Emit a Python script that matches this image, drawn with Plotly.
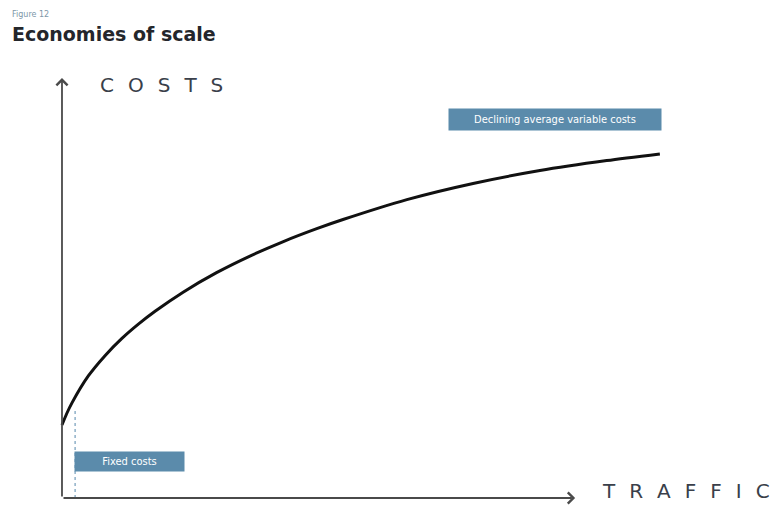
import plotly.graph_objects as go

# Total cost curve: traffic volume vs. costs (arbitrary units)
traffic = [0, 0.78, 1.63, 4.41, 7.21, 10.0, 12.8, 15.6, 20.3, 25.9, 31.5,
           37.1, 42.7, 47.1, 57.8, 68.9, 80.1, 91.3, 100.2]
costs = [17.6, 20.3, 22.8, 29.4, 34.3, 38.4, 41.9, 45.0, 49.6, 54.3, 58.3,
         61.8, 64.9, 67.1, 71.9, 75.8, 78.9, 81.3, 82.9]

# Extents of the axis arrows and the fixed-cost marker
x_arrow_end = 86.0
y_arrow_end = 101.2
fixed_cost_level = 21.2
fixed_cost_traffic = 2.2

# Label boxes
label_fixed = "Fixed costs"
label_variable = "Declining average variable costs"
axis_x_label = "TRAFFIC"
axis_y_label = "COSTS"

BOX = "#5b8bab"
AXIS = "#4a4a4a"
SP = "\u2002\u2009"
NARROW = "DejaVu Sans Condensed, Liberation Sans Narrow, Arial Narrow, sans-serif"


def spaced(s):
    return SP.join(s)


fig = go.Figure()

fig.add_trace(go.Scatter(
    x=traffic, y=costs, mode="lines",
    line=dict(color="#111111", width=3, shape="spline", smoothing=0.7),
    hoverinfo="skip", showlegend=False,
))

# Dotted marker for the fixed-cost level
fig.add_shape(type="line", xref="x", yref="y",
              x0=fixed_cost_traffic, x1=fixed_cost_traffic, y0=0, y1=fixed_cost_level,
              line=dict(color="#8fb0c8", width=1.5, dash="dot"))

# Axes drawn as arrows
fig.add_annotation(x=0, y=y_arrow_end, ax=0, ay=0, xref="x", yref="y",
                   axref="x", ayref="y", text="", showarrow=True,
                   arrowhead=4, arrowsize=1.2, arrowwidth=1.8, arrowcolor=AXIS)
fig.add_annotation(x=x_arrow_end, y=0, ax=0, ay=0, xref="x", yref="y",
                   axref="x", ayref="y", text="", showarrow=True,
                   arrowhead=4, arrowsize=1.2, arrowwidth=1.8, arrowcolor=AXIS)

# Axis titles
fig.add_annotation(x=6.0, y=99.5, xref="x", yref="y", xanchor="left", yanchor="middle",
                   text=spaced(axis_y_label), showarrow=False,
                   font=dict(family="DejaVu Sans", size=20, color="#3a3f4a"))
fig.add_annotation(x=90.2, y=1.7, xref="x", yref="y", xanchor="left", yanchor="middle",
                   text=spaced(axis_x_label), showarrow=False,
                   font=dict(family="DejaVu Sans", size=20, color="#3a3f4a"))

# Callout boxes
fig.add_annotation(x=11.3, y=8.9, xref="x", yref="y", text=label_fixed, showarrow=False,
                   bgcolor=BOX, width=105, height=15, borderpad=2,
                   font=dict(family=NARROW, size=11, color="white"))
fig.add_annotation(x=82.6, y=91.2, xref="x", yref="y", text=label_variable, showarrow=False,
                   bgcolor=BOX, width=208, height=17, borderpad=2,
                   font=dict(family=NARROW, size=11, color="white"))

# Figure heading
fig.add_annotation(x=0.0129, y=0.972, xref="paper", yref="paper", xanchor="left",
                   yanchor="middle", text="Figure 12", showarrow=False,
                   font=dict(family="DejaVu Sans", size=8, color="#7d97a8"))
fig.add_annotation(x=0.0129, y=0.932, xref="paper", yref="paper", xanchor="left",
                   yanchor="middle", text="<b>Economies of scale</b>", showarrow=False,
                   font=dict(family="DejaVu Sans", size=19, color="#24262b"))

fig.update_layout(
    width=778, height=507,
    margin=dict(l=0, r=0, t=0, b=0),
    paper_bgcolor="white", plot_bgcolor="white",
    xaxis=dict(range=[-10.39, 120.0], visible=False, fixedrange=True),
    yaxis=dict(range=[-2.17, 120.0], visible=False, fixedrange=True),
    showlegend=False,
)

fig.write_html("out.html")
